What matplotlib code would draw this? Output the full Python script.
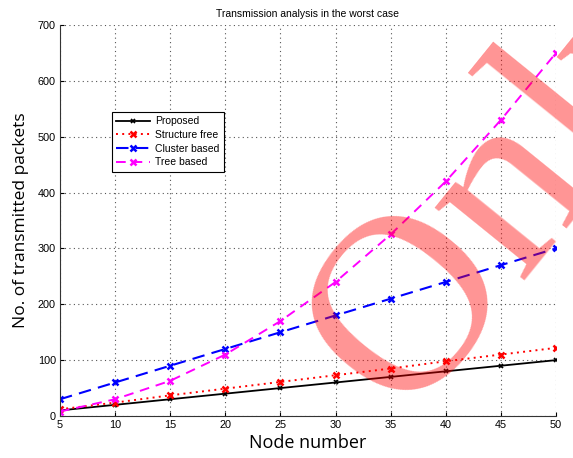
import matplotlib
matplotlib.use("Agg")
import matplotlib.pyplot as plt
import numpy as np

nodes = [5, 10, 15, 20, 25, 30, 35, 40, 45, 50]
proposed = [10, 20, 30, 40, 50, 60, 70, 80, 90, 100]
structure_free = [12, 24, 37, 49, 61, 73, 85, 98, 110, 122]
cluster_based = [30, 60, 90, 120, 150, 180, 210, 240, 270, 300]
tree_based = [8, 30, 63, 110, 170, 240, 325, 420, 530, 650]
x_ticks = [5, 10, 15, 20, 25, 30, 35, 40, 45, 50]
y_ticks = [0, 100, 200, 300, 400, 500, 600, 700]

plt.rcParams['font.family'] = ['Liberation Sans', 'DejaVu Sans']

fig = plt.figure(figsize=(5.73, 4.58), dpi=100)
ax = fig.add_axes([60/573, 42/458, 496/573, 391/458])

ax.plot(nodes, proposed, color='black', linestyle='-', marker='x', ms=3.5, mew=1.2, lw=1.3, label='Proposed')
ax.plot(nodes, structure_free, color='red', linestyle=(0, (1, 2.2)), marker='x', ms=4.5, mew=1.8, lw=1.4, label='Structure free')
ax.plot(nodes, cluster_based, color='blue', linestyle=(0, (6, 3.5)), marker='x', ms=4.5, mew=1.8, lw=1.5, label='Cluster based')
ax.plot(nodes, tree_based, color='magenta', linestyle=(0, (5, 3.5)), marker='x', ms=4.5, mew=1.8, lw=1.4, label='Tree based')

ax.set_xlim(5, 50)
ax.set_ylim(0, 700)
ax.set_xticks(x_ticks)
ax.set_yticks(y_ticks)
ax.tick_params(direction='in', length=3, labelsize=7.8, colors='black', pad=3)
ax.grid(True, linestyle=(0, (1, 3)), color='#555555', linewidth=0.8)
for s in ['top', 'right']:
    ax.spines[s].set_visible(False)
for s in ['left', 'bottom']:
    ax.spines[s].set_linewidth(0.8)
    ax.spines[s].set_color('#333333')

ax.set_title('Transmission analysis in the worst case', fontsize=7.5, pad=6)
ax.set_xlabel('Node number', fontsize=13, family=['Open Sans', 'DejaVu Sans'], labelpad=3)
ax.set_ylabel('No. of transmitted packets', fontsize=12.5, family=['Open Sans', 'DejaVu Sans'], labelpad=6)

leg = ax.legend(loc='upper left', bbox_to_anchor=(0.095, 0.79), fontsize=7.5,
                frameon=True, fancybox=False, edgecolor='black', framealpha=1,
                borderpad=0.4, labelspacing=0.35, handlelength=3.2, handletextpad=0.5)
leg.get_frame().set_linewidth(0.8)

# watermark
fig.text(516/573, 1 - 183/458, 'Only', fontsize=182, family='Liberation Serif',
         color='red', alpha=0.42, rotation=51, ha='center', va='center',
         rotation_mode='anchor', zorder=10)

fig.savefig('out.png', dpi=100)
